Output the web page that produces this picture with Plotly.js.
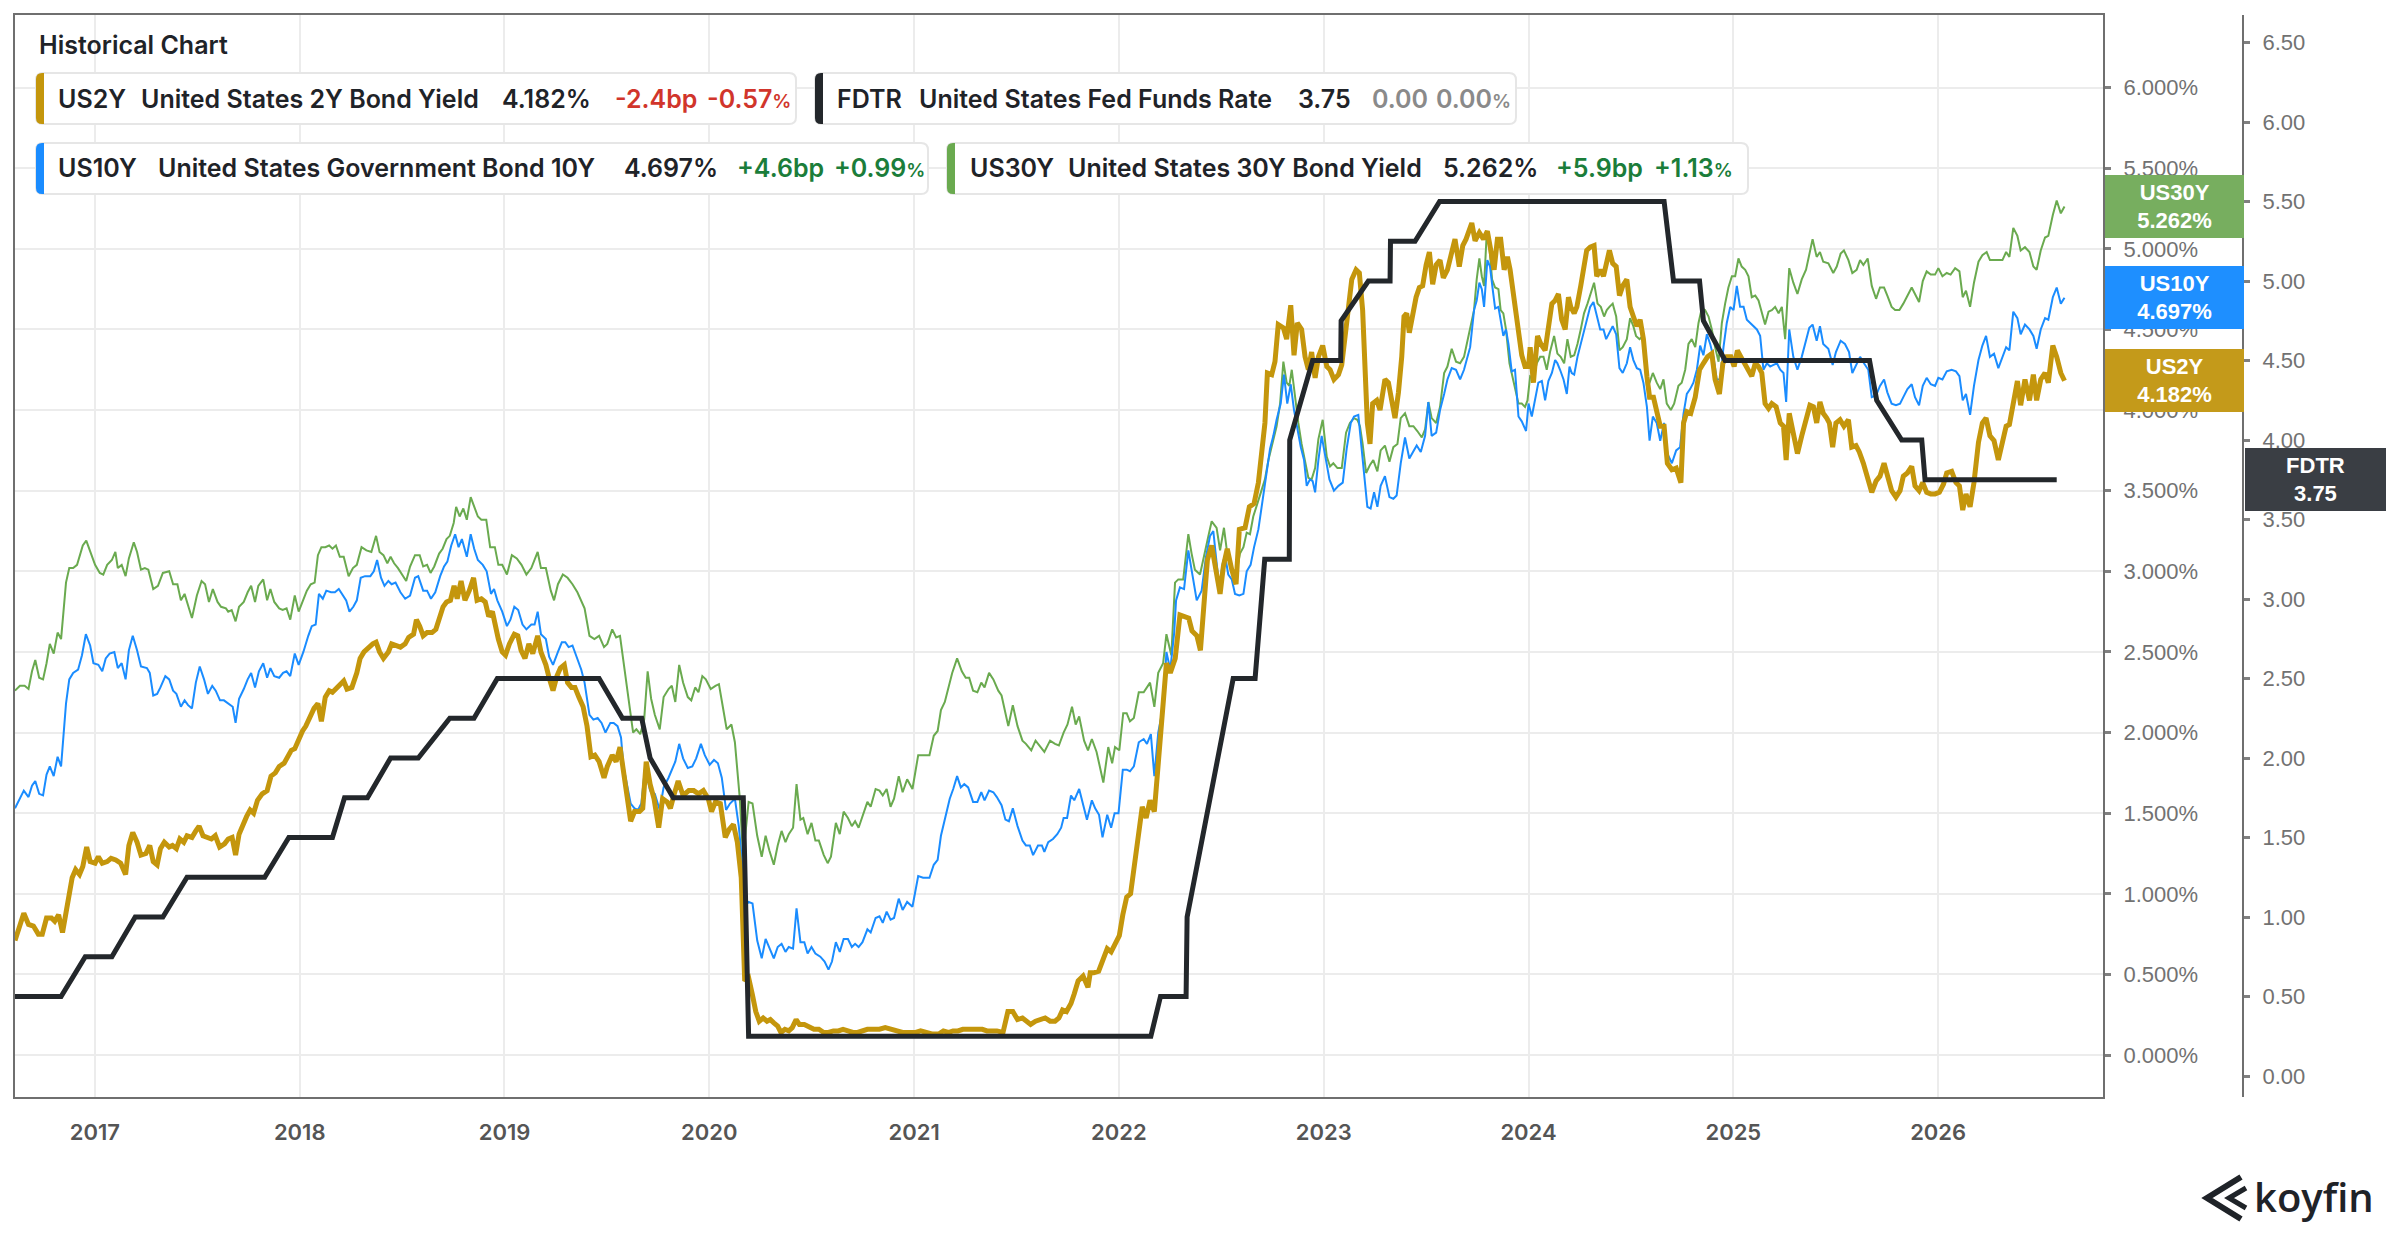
<!DOCTYPE html>
<html><head><meta charset="utf-8">
<script src="https://cdn.plot.ly/plotly-3.0.1.min.js"></script>
<style>html,body{margin:0;padding:0;background:#fff}#chart{width:2400px;height:1240px}</style>
</head><body><div id="chart"></div>
<script>
// ---------- DATA (decimal year, value) ----------
const yearTicks = [2017,2018,2019,2020,2021,2022,2023,2024,2025,2026];
const yearLabels = ["2017","2018","2019","2020","2021","2022","2023","2024","2025","2026"];
const pctTicks = [0,0.5,1,1.5,2,2.5,3,3.5,4,4.5,5,5.5,6];
const pctLabels = ["0.000%","0.500%","1.000%","1.500%","2.000%","2.500%","3.000%","3.500%","4.000%","4.500%","5.000%","5.500%","6.000%"];
const fdtrTicks = [0,0.5,1,1.5,2,2.5,3,3.5,4,4.5,5,5.5,6,6.5];
const fdtrLabels = ["0.00","0.50","1.00","1.50","2.00","2.50","3.00","3.50","4.00","4.50","5.00","5.50","6.00","6.50"];

const fdtr = [[2016.610,0.50],[2016.835,0.50],[2016.953,0.75],[2017.083,0.75],[2017.197,1.00],[2017.332,1.00],[2017.450,1.25],[2017.829,1.25],[2017.947,1.50],[2018.160,1.50],[2018.219,1.75],[2018.331,1.75],[2018.444,2.00],[2018.579,2.00],[2018.733,2.25],[2018.851,2.25],[2018.965,2.50],[2019.462,2.50],[2019.576,2.25],[2019.670,2.25],[2019.711,2.00],[2019.824,1.75],[2020.166,1.75],[2020.192,0.25],[2022.156,0.25],[2022.203,0.50],[2022.328,0.50],[2022.333,1.00],[2022.558,2.50],[2022.665,2.50],[2022.712,3.25],[2022.832,3.25],[2022.834,4.00],[2022.946,4.50],[2023.083,4.50],[2023.085,4.75],[2023.218,5.00],[2023.324,5.00],[2023.326,5.25],[2023.446,5.25],[2023.566,5.50],[2024.662,5.50],[2024.708,5.00],[2024.835,5.00],[2024.854,4.75],[2024.960,4.50],[2025.665,4.50],[2025.700,4.25],[2025.822,4.00],[2025.920,4.00],[2025.936,3.75],[2026.579,3.75]];

const us30y = [[2016.610,2.26],[2016.634,2.29],[2016.657,2.29],[2016.676,2.27],[2016.693,2.38],[2016.709,2.45],[2016.728,2.34],[2016.747,2.33],[2016.764,2.43],[2016.780,2.55],[2016.799,2.49],[2016.818,2.62],[2016.835,2.58],[2016.859,2.93],[2016.875,3.02],[2016.894,3.02],[2016.913,3.04],[2016.930,3.12],[2016.941,3.16],[2016.958,3.19],[2016.977,3.12],[2017.001,3.04],[2017.024,2.99],[2017.041,2.98],[2017.060,3.04],[2017.083,3.07],[2017.100,3.12],[2017.112,3.02],[2017.131,3.04],[2017.150,2.97],[2017.166,3.08],[2017.190,3.18],[2017.206,3.12],[2017.225,3.01],[2017.244,3.02],[2017.261,3.01],[2017.285,2.89],[2017.308,2.91],[2017.332,2.99],[2017.363,3.00],[2017.382,2.92],[2017.403,2.92],[2017.420,2.82],[2017.438,2.86],[2017.457,2.78],[2017.474,2.71],[2017.498,2.85],[2017.521,2.94],[2017.538,2.92],[2017.557,2.81],[2017.576,2.89],[2017.599,2.81],[2017.616,2.78],[2017.640,2.77],[2017.651,2.75],[2017.668,2.76],[2017.687,2.69],[2017.704,2.78],[2017.727,2.81],[2017.746,2.87],[2017.763,2.91],[2017.782,2.81],[2017.798,2.91],[2017.822,2.95],[2017.841,2.82],[2017.857,2.89],[2017.876,2.81],[2017.900,2.77],[2017.917,2.76],[2017.936,2.77],[2017.954,2.70],[2017.976,2.85],[2017.995,2.75],[2018.018,2.83],[2018.035,2.88],[2018.054,2.92],[2018.073,2.93],[2018.089,3.10],[2018.106,3.15],[2018.125,3.15],[2018.144,3.16],[2018.160,3.14],[2018.177,3.16],[2018.196,3.09],[2018.215,3.09],[2018.239,2.97],[2018.260,3.02],[2018.279,3.04],[2018.302,3.15],[2018.326,3.13],[2018.350,3.12],[2018.373,3.22],[2018.390,3.12],[2018.409,3.10],[2018.428,3.05],[2018.444,3.09],[2018.461,3.05],[2018.480,3.02],[2018.504,2.97],[2018.520,2.94],[2018.539,3.03],[2018.563,3.10],[2018.586,3.10],[2018.603,3.03],[2018.622,3.04],[2018.639,2.99],[2018.657,3.03],[2018.681,3.11],[2018.698,3.14],[2018.717,3.20],[2018.733,3.22],[2018.752,3.30],[2018.764,3.40],[2018.781,3.34],[2018.799,3.39],[2018.816,3.32],[2018.835,3.46],[2018.854,3.40],[2018.870,3.34],[2018.887,3.32],[2018.911,3.32],[2018.930,3.15],[2018.953,3.15],[2018.970,3.04],[2018.989,3.04],[2019.012,2.98],[2019.036,3.10],[2019.060,3.08],[2019.083,3.04],[2019.107,2.98],[2019.131,3.02],[2019.162,3.12],[2019.178,3.02],[2019.202,3.02],[2019.226,2.88],[2019.242,2.82],[2019.261,2.92],[2019.285,2.98],[2019.308,2.96],[2019.332,2.92],[2019.356,2.87],[2019.391,2.77],[2019.415,2.60],[2019.439,2.58],[2019.462,2.60],[2019.486,2.53],[2019.502,2.55],[2019.526,2.64],[2019.545,2.59],[2019.564,2.60],[2019.588,2.38],[2019.604,2.21],[2019.628,2.00],[2019.644,2.02],[2019.663,1.99],[2019.682,2.08],[2019.699,2.38],[2019.716,2.21],[2019.734,2.11],[2019.758,2.02],[2019.777,2.22],[2019.801,2.27],[2019.817,2.29],[2019.834,2.19],[2019.853,2.42],[2019.872,2.31],[2019.895,2.22],[2019.912,2.20],[2019.931,2.28],[2019.947,2.25],[2019.966,2.35],[2019.983,2.33],[2020.007,2.27],[2020.030,2.29],[2020.047,2.30],[2020.066,2.16],[2020.085,2.02],[2020.108,2.05],[2020.125,1.94],[2020.149,1.59],[2020.165,1.23],
[2020.192,1.57],[2020.211,1.56],[2020.234,1.36],[2020.256,1.23],[2020.275,1.36],[2020.293,1.27],[2020.315,1.18],[2020.334,1.30],[2020.353,1.39],[2020.372,1.32],[2020.388,1.37],[2020.409,1.41],[2020.426,1.68],[2020.445,1.46],[2020.459,1.47],[2020.480,1.37],[2020.499,1.44],[2020.518,1.33],[2020.535,1.33],[2020.559,1.24],[2020.578,1.19],[2020.594,1.23],[2020.618,1.44],[2020.637,1.37],[2020.656,1.51],[2020.677,1.47],[2020.696,1.42],[2020.712,1.45],[2020.729,1.41],[2020.748,1.48],[2020.772,1.57],[2020.788,1.54],[2020.812,1.65],[2020.831,1.64],[2020.847,1.61],[2020.866,1.65],[2020.885,1.54],[2020.902,1.59],[2020.925,1.73],[2020.944,1.63],[2020.966,1.71],[2020.992,1.65],[2021.020,1.86],[2021.044,1.86],[2021.075,1.86],[2021.096,1.98],[2021.115,2.01],[2021.131,2.14],[2021.150,2.19],[2021.186,2.37],[2021.210,2.46],[2021.233,2.38],[2021.252,2.34],[2021.269,2.34],[2021.288,2.26],[2021.309,2.25],[2021.328,2.31],[2021.344,2.28],[2021.366,2.37],[2021.387,2.33],[2021.411,2.26],[2021.427,2.23],[2021.460,2.04],[2021.482,2.17],[2021.505,2.04],[2021.529,1.95],[2021.546,1.93],[2021.572,1.89],[2021.593,1.95],[2021.636,1.88],[2021.664,1.95],[2021.688,1.93],[2021.707,1.92],[2021.730,2.00],[2021.749,2.05],[2021.771,2.16],[2021.789,2.05],[2021.806,2.10],[2021.830,1.95],[2021.849,1.89],[2021.868,1.96],[2021.891,1.88],[2021.924,1.69],[2021.948,1.91],[2021.967,1.81],[2021.981,1.91],[2022.002,1.89],[2022.021,2.12],[2022.038,2.12],[2022.054,2.07],[2022.073,2.09],[2022.097,2.25],[2022.121,2.25],[2022.152,2.31],[2022.173,2.16],[2022.192,2.37],[2022.216,2.43],[2022.232,2.61],[2022.256,2.48],
[2022.274,2.93],[2022.290,2.95],[2022.314,2.95],[2022.339,3.23],[2022.355,3.11],[2022.371,3.01],[2022.396,2.98],[2022.420,3.13],[2022.437,3.22],[2022.453,3.31],[2022.477,3.27],[2022.494,3.13],[2022.513,3.27],[2022.529,3.11],[2022.551,3.01],[2022.572,2.98],[2022.591,3.11],[2022.608,3.15],[2022.624,3.24],[2022.640,3.23],[2022.656,3.34],[2022.676,3.42],[2022.697,3.50],[2022.713,3.57],[2022.730,3.69],[2022.746,3.77],[2022.770,3.90],[2022.787,4.04],[2022.803,4.30],[2022.819,4.17],[2022.832,4.15],[2022.844,4.25],[2022.860,4.08],[2022.876,3.92],[2022.892,3.79],[2022.909,3.69],[2022.925,3.58],[2022.941,3.57],[2022.958,3.64],[2022.974,3.82],[2022.995,3.94],[2023.015,3.71],[2023.031,3.65],[2023.047,3.67],[2023.067,3.64],[2023.088,3.64],[2023.109,3.86],[2023.128,3.92],[2023.148,3.95],[2023.164,3.94],[2023.177,3.90],[2023.190,3.79],[2023.207,3.61],[2023.226,3.66],[2023.242,3.69],[2023.262,3.62],[2023.278,3.75],[2023.299,3.78],[2023.321,3.68],[2023.340,3.77],[2023.360,3.79],[2023.376,3.95],[2023.397,3.98],[2023.418,3.90],[2023.438,3.90],[2023.457,3.87],[2023.479,3.83],[2023.495,3.88],[2023.511,4.05],[2023.527,3.95],[2023.549,3.92],[2023.568,4.02],[2023.588,4.23],[2023.604,4.27],[2023.625,4.38],[2023.646,4.30],[2023.666,4.29],[2023.685,4.33],[2023.715,4.50],
[2023.734,4.62],[2023.747,4.81],[2023.760,4.94],[2023.772,4.83],[2023.783,4.77],[2023.796,5.10],[2023.809,5.01],[2023.822,4.81],[2023.837,4.76],[2023.853,4.75],[2023.864,4.62],[2023.877,4.60],[2023.890,4.50],[2023.907,4.29],[2023.920,4.21],[2023.936,4.11],[2023.951,4.04],[2023.967,4.04],[2023.983,4.02],[2023.995,4.06],[2024.008,4.21],[2024.024,4.20],[2024.040,4.29],[2024.057,4.33],[2024.073,4.33],[2024.089,4.25],[2024.105,4.36],[2024.125,4.46],[2024.141,4.35],[2024.157,4.33],[2024.174,4.29],[2024.190,4.44],[2024.206,4.33],[2024.223,4.34],[2024.239,4.41],[2024.255,4.50],[2024.271,4.60],[2024.288,4.66],[2024.304,4.72],[2024.320,4.79],[2024.337,4.66],[2024.353,4.64],[2024.369,4.58],[2024.382,4.62],[2024.395,4.64],[2024.411,4.66],[2024.428,4.58],[2024.444,4.37],[2024.460,4.39],[2024.480,4.44],[2024.496,4.57],[2024.512,4.52],[2024.525,4.46],[2024.542,4.44],[2024.561,4.46],[2024.578,4.15],[2024.591,4.17],[2024.607,4.23],[2024.626,4.17],[2024.643,4.13],[2024.659,4.19],[2024.675,4.04],[2024.695,4.00],[2024.711,4.04],[2024.732,4.15],[2024.748,4.17],[2024.765,4.25],[2024.781,4.41],[2024.797,4.44],[2024.814,4.39],[2024.830,4.54],[2024.846,4.63],[2024.862,4.62],[2024.879,4.58],[2024.895,4.50],[2024.911,4.39],[2024.928,4.30],[2024.944,4.54],[2024.960,4.66],[2024.976,4.76],[2024.993,4.83],[2025.009,4.83],[2025.025,4.94],[2025.041,4.89],[2025.058,4.87],[2025.074,4.83],[2025.090,4.70],[2025.107,4.71],[2025.123,4.68],[2025.139,4.60],[2025.155,4.53],[2025.172,4.61],[2025.188,4.62],[2025.204,4.64],[2025.221,4.60],[2025.237,4.64],[2025.253,4.44],
[2025.273,4.88],[2025.293,4.79],[2025.313,4.72],[2025.334,4.81],[2025.355,4.87],[2025.371,4.97],[2025.387,5.06],[2025.407,4.95],[2025.423,4.98],[2025.439,4.92],[2025.464,4.91],[2025.488,4.85],[2025.505,4.89],[2025.524,4.97],[2025.540,4.99],[2025.562,4.93],[2025.581,4.85],[2025.602,4.87],[2025.619,4.93],[2025.635,4.90],[2025.656,4.94],[2025.676,4.77],[2025.697,4.69],[2025.716,4.76],[2025.736,4.76],[2025.752,4.71],[2025.773,4.64],[2025.790,4.62],[2025.811,4.62],[2025.830,4.66],[2025.850,4.71],[2025.871,4.76],[2025.887,4.72],[2025.907,4.67],[2025.925,4.80],[2025.944,4.86],[2025.964,4.84],[2025.985,4.84],[2026.001,4.88],[2026.021,4.83],[2026.042,4.85],[2026.061,4.84],[2026.083,4.88],[2026.104,4.86],[2026.120,4.70],[2026.136,4.74],[2026.156,4.64],[2026.175,4.79],[2026.197,4.92],[2026.216,4.96],[2026.237,4.98],[2026.253,4.93],[2026.273,4.93],[2026.294,4.93],[2026.314,4.93],[2026.332,4.98],[2026.348,4.95],[2026.367,5.13],[2026.387,5.08],[2026.403,4.99],[2026.424,5.01],[2026.446,4.98],[2026.465,4.89],[2026.481,4.87],[2026.501,4.99],[2026.522,5.07],[2026.538,5.08],[2026.560,5.21],[2026.579,5.30],[2026.599,5.22],[2026.617,5.262]];

const us10y = [[2016.610,1.53],[2016.634,1.59],[2016.653,1.64],[2016.676,1.60],[2016.693,1.67],[2016.709,1.70],[2016.728,1.62],[2016.747,1.61],[2016.764,1.74],[2016.780,1.79],[2016.799,1.73],[2016.818,1.85],[2016.835,1.79],[2016.859,2.18],[2016.875,2.33],[2016.894,2.37],[2016.918,2.39],[2016.937,2.48],[2016.956,2.61],[2016.977,2.54],[2016.993,2.43],[2017.017,2.42],[2017.036,2.38],[2017.053,2.46],[2017.072,2.49],[2017.095,2.50],[2017.112,2.40],[2017.131,2.43],[2017.150,2.33],[2017.166,2.51],[2017.185,2.60],[2017.206,2.51],[2017.225,2.41],[2017.254,2.40],[2017.268,2.37],[2017.285,2.23],[2017.304,2.24],[2017.320,2.28],[2017.344,2.35],[2017.363,2.33],[2017.382,2.26],[2017.398,2.24],[2017.420,2.16],[2017.438,2.20],[2017.455,2.17],[2017.474,2.15],[2017.493,2.31],[2017.512,2.41],[2017.533,2.33],[2017.552,2.24],[2017.573,2.29],[2017.590,2.26],[2017.611,2.20],[2017.630,2.20],[2017.651,2.18],[2017.673,2.16],[2017.687,2.06],[2017.704,2.21],[2017.727,2.27],[2017.746,2.33],[2017.763,2.37],[2017.782,2.28],[2017.801,2.38],[2017.822,2.43],[2017.841,2.34],[2017.857,2.40],[2017.876,2.35],[2017.900,2.34],[2017.919,2.37],[2017.936,2.38],[2017.954,2.35],[2017.976,2.49],[2017.995,2.42],[2018.018,2.50],[2018.042,2.60],[2018.059,2.66],[2018.078,2.67],[2018.094,2.86],[2018.113,2.83],[2018.130,2.88],[2018.153,2.87],[2018.172,2.87],[2018.191,2.89],[2018.208,2.86],[2018.227,2.82],[2018.243,2.75],[2018.262,2.78],[2018.279,2.82],[2018.298,2.96],[2018.319,2.97],[2018.345,2.97],[2018.362,3.00],[2018.378,3.07],[2018.397,2.96],[2018.414,2.91],[2018.433,2.94],[2018.449,2.92],[2018.468,2.93],[2018.492,2.87],[2018.515,2.83],[2018.539,2.85],[2018.563,2.96],[2018.579,2.97],[2018.603,2.88],[2018.622,2.88],[2018.641,2.83],[2018.662,2.87],[2018.686,2.97],[2018.705,3.03],[2018.721,3.06],[2018.740,3.16],[2018.759,3.23],[2018.776,3.15],[2018.792,3.20],[2018.816,3.09],[2018.835,3.23],[2018.852,3.14],[2018.870,3.07],[2018.894,3.04],[2018.913,3.00],[2018.934,2.86],[2018.949,2.89],[2018.965,2.82],[2018.989,2.75],[2019.012,2.66],[2019.029,2.70],[2019.048,2.78],[2019.067,2.76],[2019.088,2.67],[2019.107,2.64],[2019.131,2.67],[2019.147,2.67],[2019.162,2.75],[2019.178,2.61],[2019.202,2.58],[2019.218,2.47],[2019.237,2.42],[2019.261,2.50],[2019.280,2.56],[2019.297,2.56],[2019.313,2.53],[2019.332,2.54],[2019.351,2.47],[2019.375,2.39],[2019.391,2.31],[2019.415,2.11],[2019.434,2.08],[2019.455,2.09],[2019.474,2.06],[2019.493,2.00],[2019.517,2.06],[2019.533,2.06],[2019.552,2.04],[2019.569,1.97],[2019.581,1.79],[2019.600,1.67],[2019.616,1.56],[2019.635,1.53],[2019.652,1.52],[2019.668,1.56],[2019.687,1.79],[2019.711,1.64],[2019.734,1.62],[2019.758,1.52],[2019.777,1.66],[2019.801,1.72],[2019.817,1.77],[2019.834,1.82],[2019.853,1.93],[2019.872,1.84],[2019.895,1.78],[2019.917,1.79],[2019.936,1.84],[2019.959,1.93],[2019.978,1.86],[2020.002,1.80],[2020.023,1.83],[2020.042,1.81],[2020.061,1.72],[2020.082,1.52],[2020.101,1.56],[2020.125,1.59],[2020.144,1.42],[2020.161,1.18],[2020.179,0.93],
[2020.192,0.95],[2020.211,0.94],[2020.234,0.71],[2020.256,0.60],[2020.275,0.72],[2020.293,0.67],[2020.315,0.60],[2020.334,0.67],[2020.353,0.69],[2020.372,0.64],[2020.388,0.67],[2020.409,0.66],[2020.426,0.91],[2020.445,0.70],[2020.464,0.70],[2020.480,0.63],[2020.499,0.67],[2020.518,0.63],[2020.542,0.61],[2020.563,0.58],[2020.582,0.53],[2020.599,0.58],[2020.618,0.70],[2020.637,0.64],[2020.656,0.72],[2020.677,0.72],[2020.696,0.67],[2020.712,0.69],[2020.729,0.67],[2020.748,0.70],[2020.772,0.78],[2020.788,0.76],[2020.812,0.85],[2020.831,0.86],[2020.847,0.82],[2020.866,0.89],[2020.885,0.84],[2020.902,0.85],[2020.925,0.97],[2020.944,0.90],[2020.966,0.95],[2020.992,0.92],[2021.020,1.11],[2021.044,1.10],[2021.075,1.10],[2021.096,1.18],[2021.115,1.21],[2021.131,1.36],[2021.150,1.47],[2021.174,1.59],[2021.191,1.65],[2021.210,1.73],[2021.228,1.66],[2021.245,1.68],[2021.264,1.66],[2021.288,1.57],[2021.309,1.57],[2021.328,1.63],[2021.344,1.58],[2021.366,1.64],[2021.387,1.63],[2021.404,1.60],[2021.427,1.55],[2021.446,1.46],[2021.463,1.45],[2021.482,1.53],[2021.505,1.42],[2021.529,1.33],[2021.546,1.30],[2021.565,1.30],[2021.581,1.24],[2021.605,1.30],[2021.624,1.30],[2021.636,1.26],[2021.655,1.32],[2021.678,1.34],[2021.699,1.37],[2021.718,1.41],[2021.730,1.47],[2021.747,1.47],[2021.766,1.61],[2021.782,1.58],[2021.806,1.65],[2021.825,1.55],[2021.844,1.46],[2021.868,1.58],[2021.884,1.53],[2021.903,1.49],[2021.920,1.35],[2021.943,1.49],[2021.962,1.41],[2021.979,1.50],[2021.998,1.50],[2022.019,1.77],[2022.038,1.77],[2022.054,1.76],[2022.073,1.79],[2022.097,1.94],[2022.121,1.96],[2022.137,1.93],[2022.156,1.99],[2022.173,1.73],[2022.192,2.00],[2022.216,2.16],[2022.232,2.50],[2022.251,2.39],[2022.270,2.62],
[2022.279,2.82],[2022.298,2.90],[2022.318,2.89],[2022.339,3.13],[2022.360,2.97],[2022.380,2.82],[2022.404,2.88],[2022.425,3.09],[2022.445,3.22],[2022.461,3.25],[2022.474,3.09],[2022.490,2.90],[2022.507,3.05],[2022.518,3.10],[2022.534,2.98],[2022.551,2.95],[2022.567,2.86],[2022.588,2.85],[2022.608,2.86],[2022.624,3.00],[2022.643,3.04],[2022.660,3.15],[2022.681,3.26],[2022.702,3.44],[2022.721,3.63],[2022.738,3.76],[2022.754,3.84],[2022.770,3.94],[2022.790,4.04],[2022.806,4.22],[2022.822,4.04],[2022.839,4.16],[2022.855,4.00],[2022.871,3.88],[2022.888,3.77],[2022.904,3.69],[2022.917,3.53],[2022.933,3.57],[2022.946,3.56],[2022.958,3.49],[2022.974,3.69],[2022.990,3.84],[2023.011,3.68],[2023.028,3.57],[2023.050,3.50],[2023.072,3.53],[2023.093,3.55],[2023.112,3.76],[2023.132,3.92],[2023.148,3.96],[2023.169,3.97],[2023.185,3.75],[2023.202,3.53],[2023.213,3.40],[2023.229,3.39],[2023.246,3.49],[2023.262,3.40],[2023.278,3.53],[2023.299,3.59],[2023.321,3.46],[2023.340,3.45],[2023.356,3.47],[2023.376,3.67],[2023.397,3.83],[2023.418,3.70],[2023.438,3.75],[2023.454,3.78],[2023.474,3.74],[2023.495,3.84],[2023.511,4.05],[2023.527,3.84],[2023.549,3.86],[2023.568,4.00],[2023.588,4.10],[2023.604,4.19],[2023.625,4.26],[2023.646,4.25],[2023.666,4.19],[2023.685,4.25],[2023.715,4.39],
[2023.734,4.62],[2023.747,4.68],[2023.760,4.79],[2023.772,4.75],[2023.783,4.64],[2023.799,4.93],[2023.812,4.89],[2023.825,4.75],[2023.837,4.63],[2023.853,4.64],[2023.864,4.56],[2023.877,4.46],[2023.890,4.50],[2023.902,4.41],[2023.918,4.24],[2023.934,4.25],[2023.951,3.96],[2023.967,3.93],[2023.988,3.87],[2024.000,4.04],[2024.016,3.96],[2024.032,4.06],[2024.048,4.17],[2024.065,4.18],[2024.081,4.06],[2024.097,4.18],[2024.114,4.23],[2024.130,4.31],[2024.141,4.29],[2024.154,4.25],[2024.171,4.19],[2024.187,4.10],[2024.200,4.27],[2024.211,4.23],[2024.223,4.22],[2024.239,4.33],[2024.255,4.41],[2024.271,4.48],[2024.288,4.56],[2024.301,4.64],[2024.317,4.67],[2024.333,4.58],[2024.350,4.50],[2024.366,4.50],[2024.379,4.44],[2024.395,4.48],[2024.411,4.52],[2024.428,4.47],[2024.444,4.26],[2024.460,4.23],[2024.480,4.29],[2024.496,4.39],[2024.512,4.31],[2024.529,4.26],[2024.545,4.25],[2024.561,4.17],[2024.578,4.02],[2024.591,3.81],[2024.607,3.96],[2024.626,3.92],[2024.643,3.81],[2024.662,3.92],[2024.678,3.73],[2024.700,3.67],[2024.721,3.75],[2024.740,3.77],[2024.757,3.98],[2024.773,4.10],[2024.789,4.13],[2024.805,4.17],[2024.822,4.25],[2024.838,4.40],[2024.854,4.34],[2024.871,4.47],[2024.887,4.41],[2024.903,4.33],[2024.919,4.19],[2024.936,4.19],[2024.952,4.39],[2024.968,4.54],[2024.985,4.64],[2025.001,4.62],[2025.017,4.77],[2025.033,4.64],[2025.050,4.64],[2025.066,4.56],[2025.082,4.54],[2025.098,4.52],[2025.115,4.50],[2025.131,4.46],[2025.147,4.25],[2025.164,4.29],[2025.180,4.27],[2025.196,4.28],[2025.213,4.29],[2025.229,4.25],[2025.245,4.23],[2025.258,4.05],
[2025.273,4.50],[2025.293,4.33],[2025.313,4.25],[2025.334,4.33],[2025.355,4.44],[2025.371,4.51],[2025.387,4.53],[2025.407,4.43],[2025.423,4.52],[2025.439,4.41],[2025.464,4.38],[2025.485,4.28],[2025.501,4.36],[2025.524,4.43],[2025.545,4.41],[2025.565,4.36],[2025.581,4.23],[2025.602,4.29],[2025.619,4.33],[2025.638,4.29],[2025.659,4.25],[2025.676,4.08],[2025.697,4.09],[2025.716,4.15],[2025.736,4.19],[2025.752,4.11],[2025.773,4.04],[2025.794,4.03],[2025.814,4.04],[2025.830,4.08],[2025.850,4.13],[2025.871,4.16],[2025.887,4.08],[2025.907,4.03],[2025.925,4.15],[2025.944,4.20],[2025.964,4.16],[2025.985,4.15],[2026.001,4.20],[2026.021,4.19],[2026.042,4.24],[2026.066,4.25],[2026.087,4.24],[2026.104,4.21],[2026.120,4.06],[2026.136,4.10],[2026.156,3.97],[2026.175,4.15],[2026.197,4.31],[2026.216,4.40],[2026.234,4.46],[2026.253,4.33],[2026.273,4.35],[2026.294,4.26],[2026.314,4.33],[2026.332,4.39],[2026.348,4.37],[2026.367,4.61],[2026.387,4.57],[2026.403,4.47],[2026.424,4.53],[2026.446,4.50],[2026.465,4.46],[2026.481,4.38],[2026.501,4.50],[2026.522,4.57],[2026.538,4.56],[2026.560,4.70],[2026.579,4.76],[2026.599,4.66],[2026.617,4.697]];

const us2y = [[2016.610,0.71],[2016.634,0.80],[2016.653,0.88],[2016.676,0.81],[2016.700,0.80],[2016.724,0.75],[2016.743,0.75],[2016.764,0.85],[2016.788,0.85],[2016.804,0.83],[2016.823,0.87],[2016.842,0.76],[2016.866,0.93],[2016.889,1.10],[2016.906,1.15],[2016.925,1.12],[2016.941,1.17],[2016.960,1.29],[2016.977,1.20],[2017.001,1.19],[2017.017,1.23],[2017.036,1.19],[2017.060,1.20],[2017.079,1.22],[2017.102,1.21],[2017.126,1.19],[2017.150,1.12],[2017.166,1.30],[2017.185,1.38],[2017.206,1.32],[2017.225,1.24],[2017.249,1.25],[2017.268,1.30],[2017.285,1.20],[2017.304,1.18],[2017.320,1.28],[2017.339,1.32],[2017.363,1.29],[2017.379,1.30],[2017.398,1.28],[2017.415,1.34],[2017.434,1.32],[2017.450,1.36],[2017.474,1.35],[2017.493,1.39],[2017.509,1.42],[2017.528,1.36],[2017.552,1.35],[2017.569,1.34],[2017.588,1.36],[2017.609,1.29],[2017.633,1.31],[2017.651,1.34],[2017.670,1.35],[2017.687,1.24],[2017.704,1.37],[2017.722,1.43],[2017.741,1.48],[2017.758,1.52],[2017.775,1.50],[2017.794,1.58],[2017.817,1.62],[2017.841,1.64],[2017.860,1.73],[2017.881,1.75],[2017.900,1.79],[2017.924,1.81],[2017.943,1.85],[2017.959,1.89],[2017.976,1.90],[2017.995,1.96],[2018.014,2.01],[2018.030,2.04],[2018.049,2.10],[2018.070,2.15],[2018.089,2.18],[2018.106,2.07],[2018.125,2.22],[2018.144,2.26],[2018.160,2.25],[2018.177,2.27],[2018.196,2.29],[2018.215,2.32],[2018.231,2.27],[2018.255,2.28],[2018.279,2.37],[2018.295,2.46],[2018.314,2.50],[2018.338,2.53],[2018.357,2.55],[2018.373,2.56],[2018.390,2.50],[2018.409,2.46],[2018.433,2.50],[2018.449,2.55],[2018.468,2.54],[2018.492,2.53],[2018.515,2.55],[2018.532,2.59],[2018.556,2.61],[2018.570,2.70],[2018.586,2.66],[2018.603,2.60],[2018.622,2.62],[2018.646,2.62],[2018.665,2.64],[2018.683,2.72],[2018.700,2.78],[2018.717,2.81],[2018.736,2.82],[2018.754,2.91],[2018.769,2.83],[2018.788,2.94],[2018.807,2.82],[2018.828,2.88],[2018.849,2.96],[2018.866,2.82],[2018.887,2.83],[2018.906,2.81],[2018.923,2.72],[2018.941,2.75],[2018.953,2.67],[2018.970,2.58],[2018.989,2.50],[2019.005,2.48],[2019.024,2.55],[2019.048,2.61],[2019.065,2.60],[2019.081,2.51],[2019.100,2.46],[2019.119,2.55],[2019.138,2.49],[2019.162,2.60],[2019.178,2.50],[2019.202,2.42],[2019.218,2.34],[2019.237,2.26],[2019.256,2.35],[2019.273,2.40],[2019.292,2.42],[2019.308,2.31],[2019.327,2.28],[2019.344,2.28],[2019.363,2.22],[2019.384,2.16],[2019.403,2.04],[2019.422,1.85],[2019.441,1.86],[2019.462,1.82],[2019.486,1.72],[2019.502,1.79],[2019.526,1.86],[2019.545,1.82],[2019.564,1.91],[2019.581,1.77],[2019.597,1.64],[2019.616,1.45],[2019.635,1.51],[2019.659,1.51],[2019.675,1.53],[2019.692,1.82],[2019.711,1.68],[2019.730,1.59],[2019.753,1.41],[2019.772,1.59],[2019.794,1.57],[2019.810,1.53],[2019.829,1.62],[2019.848,1.70],[2019.872,1.61],[2019.900,1.64],[2019.924,1.64],[2019.947,1.62],[2019.971,1.64],[2019.995,1.59],[2020.011,1.51],[2020.030,1.57],[2020.054,1.56],[2020.078,1.35],[2020.097,1.40],[2020.118,1.43],[2020.137,1.32],[2020.156,1.10],
[2020.173,0.46],[2020.192,0.48],[2020.211,0.37],[2020.227,0.27],[2020.244,0.21],[2020.263,0.23],[2020.282,0.21],[2020.298,0.22],[2020.315,0.20],[2020.334,0.18],[2020.350,0.14],[2020.369,0.16],[2020.388,0.15],[2020.405,0.17],[2020.424,0.22],[2020.440,0.19],[2020.464,0.19],[2020.488,0.17],[2020.511,0.16],[2020.535,0.16],[2020.559,0.14],[2020.582,0.14],[2020.606,0.15],[2020.630,0.15],[2020.653,0.16],[2020.677,0.15],[2020.701,0.14],[2020.724,0.14],[2020.748,0.15],[2020.772,0.16],[2020.795,0.16],[2020.831,0.16],[2020.859,0.17],[2020.883,0.16],[2020.914,0.15],[2020.944,0.14],[2020.973,0.14],[2021.008,0.14],[2021.032,0.15],[2021.067,0.14],[2021.091,0.13],[2021.120,0.13],[2021.143,0.15],[2021.167,0.14],[2021.190,0.15],[2021.214,0.15],[2021.238,0.16],[2021.262,0.16],[2021.285,0.16],[2021.309,0.16],[2021.333,0.16],[2021.356,0.15],[2021.380,0.15],[2021.404,0.15],[2021.434,0.14],[2021.458,0.27],[2021.482,0.27],[2021.505,0.22],[2021.529,0.23],[2021.546,0.21],[2021.569,0.19],[2021.593,0.21],[2021.617,0.22],[2021.640,0.23],[2021.664,0.21],[2021.688,0.21],[2021.707,0.23],[2021.725,0.28],[2021.744,0.27],[2021.766,0.32],[2021.782,0.38],[2021.801,0.46],[2021.825,0.49],[2021.849,0.42],[2021.860,0.51],[2021.877,0.51],[2021.901,0.52],[2021.920,0.59],[2021.943,0.66],[2021.962,0.64],[2021.979,0.69],[2022.002,0.74],[2022.019,0.87],[2022.038,0.98],[2022.057,1.00],[2022.073,1.15],[2022.097,1.38],[2022.114,1.54],[2022.133,1.47],[2022.152,1.58],[2022.173,1.51],[2022.192,1.84],[2022.211,2.14],[2022.232,2.43],[2022.251,2.37],[2022.275,2.46],[2022.298,2.73],[2022.315,2.72],[2022.341,2.71],[2022.357,2.63],[2022.381,2.60],[2022.398,2.51],
[2022.415,2.82],[2022.432,3.07],[2022.453,3.16],[2022.474,3.01],[2022.494,2.86],[2022.510,3.03],[2022.529,3.14],[2022.551,3.01],[2022.572,2.92],[2022.588,3.26],[2022.616,3.27],[2022.637,3.40],[2022.660,3.42],[2022.681,3.55],[2022.697,3.73],[2022.713,3.92],[2022.725,4.23],[2022.746,4.22],[2022.762,4.30],[2022.778,4.53],[2022.803,4.51],[2022.819,4.44],[2022.839,4.65],[2022.855,4.34],[2022.871,4.54],[2022.892,4.50],[2022.909,4.33],[2022.925,4.25],[2022.941,4.36],[2022.958,4.20],[2022.974,4.33],[2022.995,4.40],[2023.015,4.27],[2023.031,4.25],[2023.050,4.19],[2023.072,4.22],[2023.088,4.28],[2023.104,4.44],[2023.120,4.62],[2023.137,4.81],[2023.158,4.87],[2023.174,4.85],[2023.190,4.62],[2023.202,4.15],[2023.213,3.92],[2023.226,3.79],[2023.239,4.04],[2023.259,4.06],[2023.275,4.00],[2023.299,4.19],[2023.316,4.17],[2023.332,4.06],[2023.348,3.95],[2023.365,4.11],[2023.381,4.33],[2023.392,4.58],[2023.405,4.60],[2023.418,4.48],[2023.435,4.60],[2023.451,4.70],[2023.467,4.76],[2023.483,4.77],[2023.500,4.90],[2023.516,4.98],[2023.532,4.78],[2023.549,4.90],[2023.568,4.93],[2023.584,4.82],[2023.604,4.87],[2023.620,4.96],[2023.641,5.06],[2023.662,4.89],[2023.679,5.02],[2023.695,5.06],[2023.715,5.15],
[2023.723,5.16],[2023.739,5.05],[2023.760,5.10],[2023.780,5.06],[2023.799,5.11],[2023.816,4.99],[2023.832,4.87],[2023.848,5.06],[2023.864,5.06],[2023.881,4.87],[2023.897,4.95],[2023.910,4.87],[2023.926,4.72],[2023.939,4.62],[2023.951,4.46],[2023.967,4.34],[2023.983,4.27],[2024.000,4.27],[2024.008,4.39],[2024.024,4.17],[2024.044,4.46],[2024.060,4.41],[2024.081,4.37],[2024.097,4.50],[2024.114,4.66],[2024.130,4.68],[2024.146,4.72],[2024.162,4.56],[2024.179,4.50],[2024.195,4.70],[2024.206,4.64],[2024.223,4.60],[2024.236,4.64],[2024.255,4.77],[2024.271,4.91],[2024.284,4.99],[2024.301,5.01],[2024.320,5.02],[2024.333,4.83],[2024.350,4.87],[2024.366,4.83],[2024.382,4.91],[2024.395,4.99],[2024.411,4.91],[2024.428,4.89],[2024.444,4.71],[2024.460,4.77],[2024.480,4.81],[2024.496,4.64],[2024.512,4.58],[2024.529,4.52],[2024.545,4.56],[2024.561,4.44],[2024.578,4.21],[2024.591,4.08],[2024.610,4.08],[2024.626,3.98],[2024.643,3.90],[2024.662,3.90],[2024.678,3.67],[2024.700,3.63],[2024.721,3.64],[2024.744,3.55],[2024.757,3.92],[2024.773,3.99],[2024.792,3.98],[2024.814,4.08],[2024.835,4.25],[2024.854,4.29],[2024.874,4.33],[2024.895,4.35],[2024.911,4.19],[2024.932,4.10],[2024.949,4.29],[2024.968,4.33],[2024.988,4.33],[2025.004,4.27],[2025.020,4.37],[2025.037,4.33],[2025.053,4.29],[2025.069,4.25],[2025.090,4.21],[2025.107,4.29],[2025.123,4.27],[2025.139,4.23],[2025.155,4.04],[2025.172,4.01],[2025.188,4.04],[2025.209,4.02],[2025.229,3.92],[2025.245,3.90],[2025.258,3.69],
[2025.273,3.98],[2025.293,3.84],[2025.313,3.73],[2025.334,3.84],[2025.355,3.93],[2025.374,4.03],[2025.391,4.02],[2025.407,3.92],[2025.423,4.05],[2025.439,3.98],[2025.456,3.95],[2025.469,3.92],[2025.485,3.77],[2025.501,3.92],[2025.521,3.94],[2025.540,3.90],[2025.562,3.94],[2025.578,3.77],[2025.599,3.78],[2025.615,3.74],[2025.635,3.67],[2025.654,3.59],[2025.676,3.49],[2025.697,3.56],[2025.716,3.59],[2025.736,3.67],[2025.752,3.59],[2025.773,3.50],[2025.794,3.46],[2025.814,3.50],[2025.830,3.59],[2025.850,3.61],[2025.871,3.65],[2025.887,3.53],[2025.907,3.50],[2025.925,3.55],[2025.944,3.49],[2025.964,3.48],[2025.985,3.48],[2026.006,3.49],[2026.026,3.54],[2026.042,3.61],[2026.066,3.62],[2026.087,3.55],[2026.104,3.53],[2026.120,3.38],[2026.136,3.48],[2026.156,3.40],[2026.175,3.55],[2026.197,3.80],[2026.216,3.92],[2026.234,3.95],[2026.253,3.84],[2026.273,3.81],[2026.294,3.69],[2026.314,3.80],[2026.332,3.90],[2026.348,3.91],[2026.367,4.05],[2026.387,4.18],[2026.403,4.03],[2026.424,4.19],[2026.446,4.06],[2026.465,4.22],[2026.481,4.06],[2026.501,4.19],[2026.522,4.23],[2026.538,4.17],[2026.560,4.40],[2026.579,4.33],[2026.599,4.23],[2026.617,4.182]];

// ---------- LAYOUT HELPERS (pixel -> paper) ----------
const L = 15, T = 15, R = 2243, B = 1097;
const PW = R - L, PH = B - T;
const X = px => (px - L) / PW;
const Y = py => 1 - (py - T) / PH;

function rrect(x0, y0, x1, y1, r) {
  return `M ${X(x0 + r)},${Y(y0)} L ${X(x1 - r)},${Y(y0)} Q ${X(x1)},${Y(y0)} ${X(x1)},${Y(y0 + r)} ` +
         `L ${X(x1)},${Y(y1 - r)} Q ${X(x1)},${Y(y1)} ${X(x1 - r)},${Y(y1)} L ${X(x0 + r)},${Y(y1)} ` +
         `Q ${X(x0)},${Y(y1)} ${X(x0)},${Y(y1 - r)} L ${X(x0)},${Y(y0 + r)} Q ${X(x0)},${Y(y0)} ${X(x0 + r)},${Y(y0)} Z`;
}
function leftBar(x0, y0, y1, w, r) {
  return `M ${X(x0 + r)},${Y(y0)} L ${X(x0 + w)},${Y(y0)} L ${X(x0 + w)},${Y(y1)} L ${X(x0 + r)},${Y(y1)} ` +
         `Q ${X(x0)},${Y(y1)} ${X(x0)},${Y(y1 - r)} L ${X(x0)},${Y(y0 + r)} Q ${X(x0)},${Y(y0)} ${X(x0 + r)},${Y(y0)} Z`;
}

const C2 = '#c4960c', C10 = '#1a8cff', C30 = '#6aaa4f', CF = '#23272b';
const RED = '#d1352b', GRN = '#1b7d3a', GRY = '#8a8a8a', TXT = '#1f2328';

const col = a => a.map(p => p[0]);
const val = a => a.map(p => p[1]);
const last = a => a[a.length - 1][1];

const traces = [
  {x: col(us30y), y: val(us30y), type: 'scatter', mode: 'lines', line: {color: C30, width: 2}, yaxis: 'y', hoverinfo: 'skip'},
  {x: col(us10y), y: val(us10y), type: 'scatter', mode: 'lines', line: {color: C10, width: 2}, yaxis: 'y', hoverinfo: 'skip'},
  {x: col(us2y),  y: val(us2y),  type: 'scatter', mode: 'lines', line: {color: C2, width: 5}, yaxis: 'y', hoverinfo: 'skip'},
  {x: col(fdtr),  y: val(fdtr),  type: 'scatter', mode: 'lines', line: {color: CF, width: 5}, yaxis: 'y2', hoverinfo: 'skip'}
];

// legend boxes
const rows = [
  {x0: 36, x1: 796, y0: 73, y1: 124, color: C2},
  {x0: 815, x1: 1516, y0: 73, y1: 124, color: CF},
  {x0: 36, x1: 928, y0: 143, y1: 194, color: C10},
  {x0: 947, x1: 1748, y0: 143, y1: 194, color: C30}
];
const shapes = [];
rows.forEach(b => {
  shapes.push({type: 'path', xref: 'paper', yref: 'paper', layer: 'above', path: rrect(b.x0, b.y0, b.x1, b.y1, 7), fillcolor: '#ffffff', line: {color: '#e6e6e6', width: 2}});
  shapes.push({type: 'path', xref: 'paper', yref: 'paper', layer: 'above', path: leftBar(b.x0, b.y0, b.y1, 8, 6), fillcolor: b.color, line: {width: 0}});
});
// koyfin mark
shapes.push({type: 'path', xref: 'paper', yref: 'paper', path: `M ${X(2241)},${Y(1177)} L ${X(2207)},${Y(1198)} L ${X(2241)},${Y(1219)}`, line: {color: TXT, width: 6}});
shapes.push({type: 'path', xref: 'paper', yref: 'paper', path: `M ${X(2246)},${Y(1188)} L ${X(2229)},${Y(1198)} L ${X(2246)},${Y(1208)}`, line: {color: TXT, width: 5}});

const LF = {family: 'Inter, sans-serif', size: 25, color: TXT, weight: 600};
const pct = v => `${v}<span style="font-size:19px">%</span>`;
function txt(px, py, text, color, extra) {
  return Object.assign({xref: 'paper', yref: 'paper', x: X(px), y: Y(py), xanchor: 'left', yanchor: 'middle', showarrow: false, text: text,
    font: Object.assign({}, LF, {color: color || TXT})}, extra || {});
}
const r1 = 99, r2 = 168.5;
const annotations = [
  txt(37, 45, 'Historical Chart', TXT, {font: {family: 'Inter, sans-serif', size: 25, color: TXT, weight: 600}}),
  txt(56, r1, 'US2Y'), txt(139, r1, 'United States 2Y Bond Yield'), txt(500, r1, last(us2y).toFixed(3) + '%'),
  txt(613, r1, '-2.4bp', RED), txt(705, r1, pct('-0.57'), RED),
  txt(835, r1, 'FDTR'), txt(917, r1, 'United States Fed Funds Rate'), txt(1296, r1, last(fdtr).toFixed(2)),
  txt(1370, r1, '0.00', GRY), txt(1434, r1, pct('0.00'), GRY),
  txt(56, r2, 'US10Y'), txt(156, r2, 'United States Government Bond 10Y'), txt(622, r2, last(us10y).toFixed(3) + '%'),
  txt(735, r2, '+4.6bp', GRN), txt(832, r2, pct('+0.99'), GRN),
  txt(968, r2, 'US30Y'), txt(1066, r2, 'United States 30Y Bond Yield'), txt(1441, r2, last(us30y).toFixed(3) + '%'),
  txt(1554, r2, '+5.9bp', GRN), txt(1652, r2, pct('+1.13'), GRN)
];
// last-value tags on the axes
const tagFont = {family: 'Liberation Sans, Arial, sans-serif', size: 22, color: '#ffffff', weight: 700};
function tag(name, v, yref, bg, cx, w, fmt) {
  return {xref: 'paper', yref: yref, x: X(cx), y: v, xanchor: 'center', yanchor: 'middle', showarrow: false,
    text: name + '<br>' + fmt(v), bgcolor: bg, width: w, height: 63, borderpad: 0, borderwidth: 0, font: tagFont, align: 'center'};
}
annotations.push(tag('US30Y', last(us30y), 'y', '#77ae5f', 2174, 139, v => v.toFixed(3) + '%'));
annotations.push(tag('US10Y', last(us10y), 'y', '#1e8fff', 2174, 139, v => v.toFixed(3) + '%'));
annotations.push(tag('US2Y', last(us2y), 'y', '#c49a1a', 2174, 139, v => v.toFixed(3) + '%'));
annotations.push(tag('FDTR', last(fdtr), 'y2', '#3a3e44', 2315, 141, v => v.toFixed(2)));
annotations.push(txt(2252, 1196, 'koyfin', TXT, {font: {family: 'Open Sans, sans-serif', size: 40, color: TXT, weight: 600}}));

const axisFont = {family: 'Liberation Sans, Arial, sans-serif', size: 22, color: '#727272'};
const layout = {
  width: 2400, height: 1240,
  margin: {l: L, r: 2400 - R, t: T, b: 1240 - B, pad: 0},
  paper_bgcolor: '#ffffff', plot_bgcolor: '#ffffff',
  showlegend: false, hovermode: false,
  xaxis: {domain: [0, X(2103)], range: [2016.61, 2026.805], tickvals: yearTicks, ticktext: yearLabels,
    showgrid: true, gridcolor: '#ececec', gridwidth: 2, zeroline: false,
    showline: true, mirror: true, linecolor: '#6f6f6f', linewidth: 2, ticks: '',
    tickfont: {family: 'Inter, sans-serif', size: 22, color: '#555555', weight: 600}, ticklabelstandoff: 15},
  yaxis: {range: [-0.26, 6.45], side: 'right', tickvals: pctTicks, ticktext: pctLabels,
    showgrid: true, gridcolor: '#ececec', gridwidth: 2, zeroline: false,
    showline: true, mirror: true, linecolor: '#6f6f6f', linewidth: 2,
    ticks: 'outside', ticklen: 6, tickwidth: 3, tickcolor: '#808080', tickfont: axisFont, ticklabelstandoff: 8},
  yaxis2: {range: [-0.132, 6.673], overlaying: 'y', side: 'right', anchor: 'free', position: 1,
    tickvals: fdtrTicks, ticktext: fdtrLabels, showgrid: false, zeroline: false,
    showline: true, linecolor: '#6f6f6f', linewidth: 2,
    ticks: 'outside', ticklen: 6, tickwidth: 3, tickcolor: '#808080', tickfont: axisFont, ticklabelstandoff: 8},
  shapes: shapes, annotations: annotations
};
Plotly.newPlot('chart', traces, layout, {staticPlot: true, displayModeBar: false});
</script></body></html>
